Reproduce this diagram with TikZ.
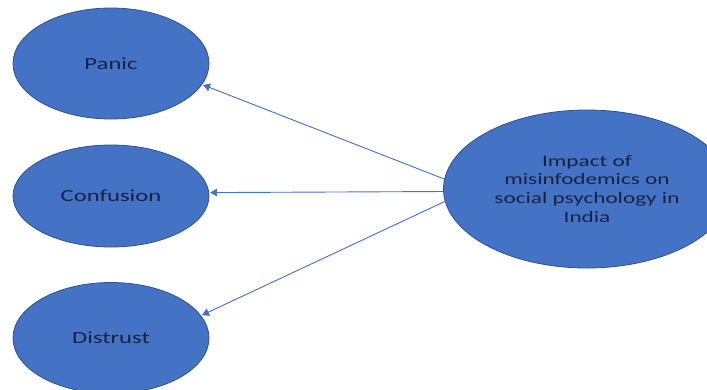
\documentclass[tikz,border=0pt]{standalone}
\usepackage{fontspec}
\setmainfont{Carlito}
\usepackage{graphicx}
\usepackage{tikz}
\usetikzlibrary{arrows}
\usetikzlibrary{shapes.geometric}
\definecolor{ovalfill}{HTML}{4472C4}
\definecolor{ovalline}{HTML}{2F528F}
\definecolor{labeltext}{HTML}{17233F}
\newcommand{\widetext}[1]{\scalebox{1.45}[1]{#1}}
\tikzset{%
  myedge/.style={->, draw=ovalfill, line width=0.9pt, shorten >=1pt, >=triangle 60},
  mynode/.style={ellipse, draw=ovalline, line width=0.8pt, fill=ovalfill, inner sep=0pt,
                 text=labeltext, font=\fontsize{17}{20}\selectfont}
}

\begin{document}
\begin{tikzpicture}[x=1pt, y=-1pt]
  \clip (0,0) rectangle (707,389);
  \fill [white] (0,0) rectangle (707,389);

\node [mynode, minimum width=287pt, minimum height=158pt, align=center,
       font=\fontsize{16}{18.9}\selectfont] (imp) at (587, 189)
  {\widetext{Impact of}\\ \widetext{misinfodemics on}\\
   \widetext{social psychology in}\\ \widetext{India}};

\foreach \nm / \y / \h / \txt in {panic/63.5/111/Panic, conf/196/102/Confusion, dist/338/111/Distrust}{
  \node [mynode, minimum width=196pt, minimum height=\h pt] (\nm) at (111, \y) {\widetext{\txt}};
}

% edges
\foreach \a / \nm / \b in {176/panic/-13, 181/conf/2, 185/dist/14}{
  \draw [myedge] (imp.\a) -- (\nm.\b);
}

\end{tikzpicture}
\end{document}
